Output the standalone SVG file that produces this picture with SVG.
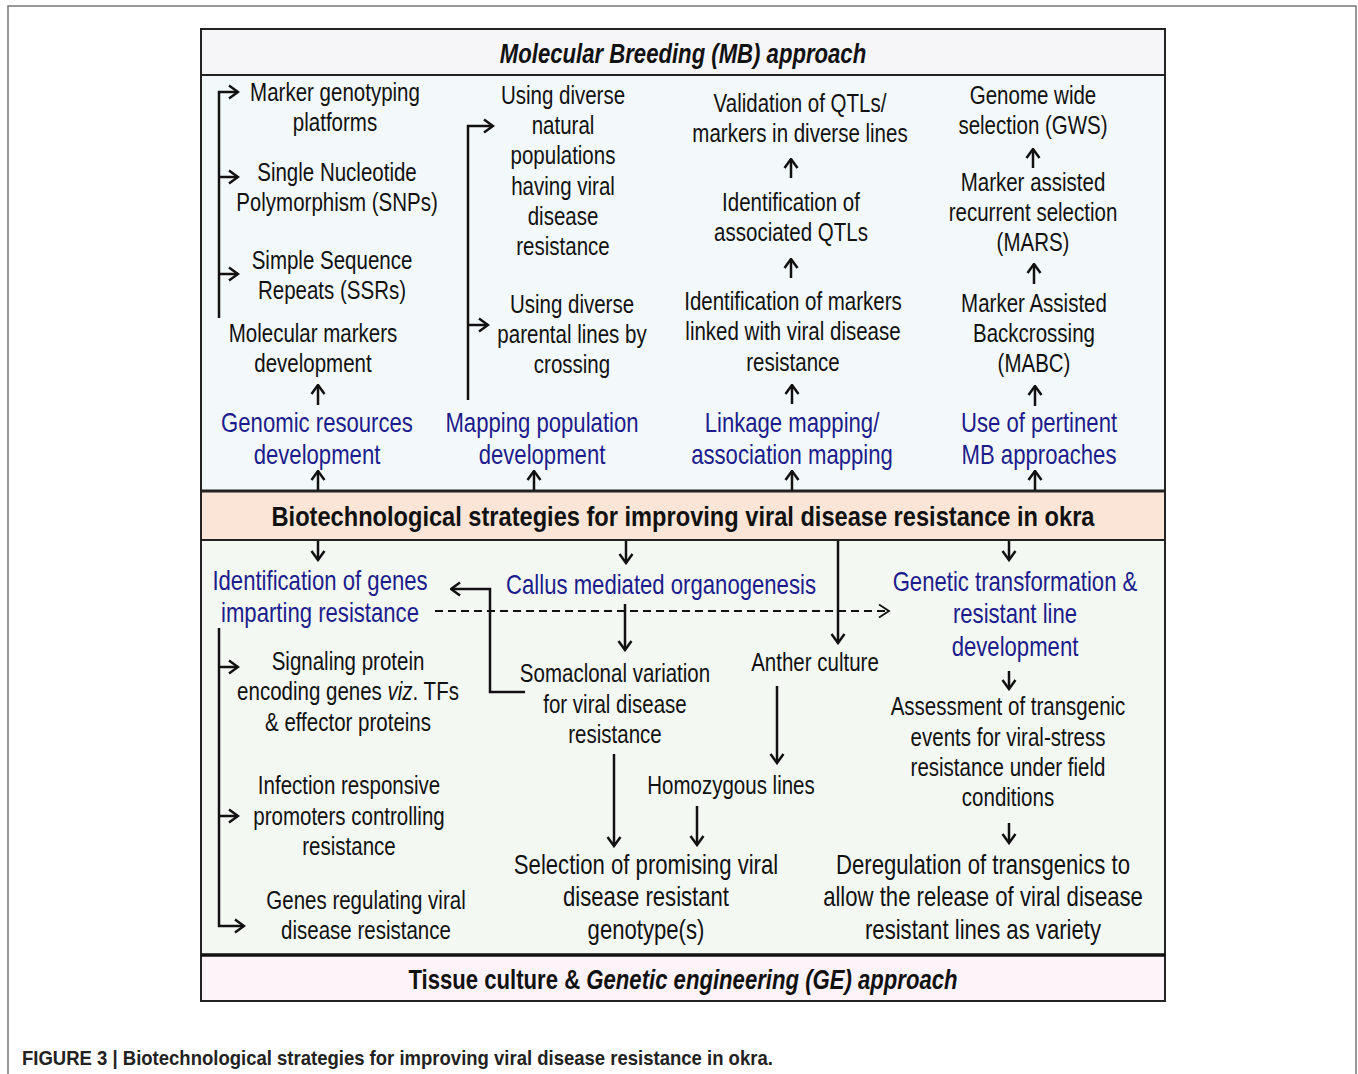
<svg xmlns="http://www.w3.org/2000/svg" width="1358" height="1074" viewBox="0 0 1358 1074">
<defs>
<style>
text{font-family:"Liberation Sans",Arial,sans-serif;text-anchor:middle;}
.t{font-size:25px;fill:#111;}
.tl{font-size:27px;fill:#111;}
.b{font-size:27px;fill:#1c1c8c;}
.h{font-size:27px;font-weight:bold;fill:#111;}
.hi{font-size:27px;font-weight:bold;font-style:italic;fill:#111;}
.cap{font-size:19.5px;font-weight:bold;fill:#222;text-anchor:start;}
.c{fill:none;stroke:#111;stroke-width:2.5;}
.d{fill:none;stroke:#111;stroke-width:1.8;stroke-dasharray:8 5;}
.a{marker-end:url(#ah);}
</style>
<marker id="ah" viewBox="0 0 12 16" refX="10.5" refY="8" markerWidth="12" markerHeight="16" markerUnits="userSpaceOnUse" orient="auto">
<path d="M1.5,1.5 L10.5,8 L1.5,14.5" fill="none" stroke="#111" stroke-width="2.5"/>
</marker>
</defs>
<rect x="0" y="0" width="1358" height="1074" fill="#ffffff"/>
<path d="M8,1074 V6 H1356 V1074" fill="none" stroke="#777" stroke-width="1.5"/>

<g id="frame">
<rect x="201" y="29" width="964" height="46" fill="#f6f6f9"/>
<rect x="201" y="75" width="964" height="416" fill="#f3f9fa"/>
<rect x="201" y="491" width="964" height="49" fill="#fbe5d6"/>
<rect x="201" y="540" width="964" height="415" fill="#f4f8f3"/>
<rect x="201" y="955" width="964" height="46" fill="#fdf3f8"/>
<rect x="201" y="29" width="964" height="972" fill="none" stroke="#222" stroke-width="2"/>
<line x1="201" y1="75" x2="1165" y2="75" stroke="#222" stroke-width="2"/>
<line x1="201" y1="491" x2="1165" y2="491" stroke="#222" stroke-width="3"/>
<line x1="201" y1="540" x2="1165" y2="540" stroke="#222" stroke-width="2"/>
<line x1="201" y1="955" x2="1165" y2="955" stroke="#111" stroke-width="3.5"/>
</g>

<g id="mb-title" transform="translate(683 0) scale(0.82 1)"><text class="hi" x="0" y="63">Molecular Breeding (MB) approach</text></g>
<g id="center-title" transform="translate(683 0) scale(0.875 1)"><text class="h" x="0" y="526">Biotechnological strategies for improving viral disease resistance in okra</text></g>
<g id="ge-title" transform="translate(683 0) scale(0.82 1)"><text class="h" x="0" y="989">Tissue culture &amp; <tspan font-style="italic">Genetic engineering (GE) approach</tspan></text></g>

<g id="n-marker-platforms" transform="translate(335 0) scale(0.82 1)"><text class="t" x="0" y="101">Marker genotyping</text><text class="t" x="0" y="131">platforms</text></g>
<g id="n-snp" transform="translate(337 0) scale(0.82 1)"><text class="t" x="0" y="181">Single Nucleotide</text><text class="t" x="0" y="211">Polymorphism (SNPs)</text></g>
<g id="n-ssr" transform="translate(332 0) scale(0.82 1)"><text class="t" x="0" y="269">Simple Sequence</text><text class="t" x="0" y="299">Repeats (SSRs)</text></g>
<g id="n-molmarkers" transform="translate(313 0) scale(0.82 1)"><text class="t" x="0" y="342">Molecular markers</text><text class="t" x="0" y="372">development</text></g>
<g id="n-genomic" transform="translate(317 0) scale(0.82 1)"><text class="b" x="0" y="432">Genomic resources</text><text class="b" x="0" y="464">development</text></g>

<g id="n-natural" transform="translate(563 0) scale(0.82 1)"><text class="t" x="0" y="104">Using diverse</text><text class="t" x="0" y="134">natural</text><text class="t" x="0" y="164">populations</text><text class="t" x="0" y="195">having viral</text><text class="t" x="0" y="225">disease</text><text class="t" x="0" y="255">resistance</text></g>
<g id="n-parental" transform="translate(572 0) scale(0.82 1)"><text class="t" x="0" y="313">Using diverse</text><text class="t" x="0" y="343">parental lines by</text><text class="t" x="0" y="373">crossing</text></g>
<g id="n-mapping" transform="translate(542 0) scale(0.82 1)"><text class="b" x="0" y="432">Mapping population</text><text class="b" x="0" y="464">development</text></g>

<g id="n-validation" transform="translate(800 0) scale(0.82 1)"><text class="t" x="0" y="112">Validation of QTLs/</text><text class="t" x="0" y="142">markers in diverse lines</text></g>
<g id="n-assocqtl" transform="translate(791 0) scale(0.82 1)"><text class="t" x="0" y="211">Identification of</text><text class="t" x="0" y="241">associated QTLs</text></g>
<g id="n-idmarkers" transform="translate(793 0) scale(0.82 1)"><text class="t" x="0" y="310">Identification of markers</text><text class="t" x="0" y="340">linked with viral disease</text><text class="t" x="0" y="371">resistance</text></g>
<g id="n-linkage" transform="translate(792 0) scale(0.82 1)"><text class="b" x="0" y="432">Linkage mapping/</text><text class="b" x="0" y="464">association mapping</text></g>

<g id="n-gws" transform="translate(1033 0) scale(0.82 1)"><text class="t" x="0" y="104">Genome wide</text><text class="t" x="0" y="134">selection (GWS)</text></g>
<g id="n-mars" transform="translate(1033 0) scale(0.82 1)"><text class="t" x="0" y="191">Marker assisted</text><text class="t" x="0" y="221">recurrent selection</text><text class="t" x="0" y="251">(MARS)</text></g>
<g id="n-mabc" transform="translate(1034 0) scale(0.82 1)"><text class="t" x="0" y="312">Marker Assisted</text><text class="t" x="0" y="342">Backcrossing</text><text class="t" x="0" y="372">(MABC)</text></g>
<g id="n-pertinent" transform="translate(1039 0) scale(0.82 1)"><text class="b" x="0" y="432">Use of pertinent</text><text class="b" x="0" y="464">MB approaches</text></g>

<g id="n-idgenes" transform="translate(320 0) scale(0.82 1)"><text class="b" x="0" y="590">Identification of genes</text><text class="b" x="0" y="622">imparting resistance</text></g>
<g id="n-callus" transform="translate(661 0) scale(0.82 1)"><text class="b" x="0" y="594">Callus mediated organogenesis</text></g>
<g id="n-gt" transform="translate(1015 0) scale(0.82 1)"><text class="b" x="0" y="591">Genetic transformation &amp;</text><text class="b" x="0" y="623">resistant line</text><text class="b" x="0" y="656">development</text></g>

<g id="n-signaling" transform="translate(348 0) scale(0.82 1)"><text class="t" x="0" y="670">Signaling protein</text><text class="t" x="0" y="700">encoding genes <tspan font-style="italic">viz</tspan>. TFs</text><text class="t" x="0" y="731">&amp; effector proteins</text></g>
<g id="n-infection" transform="translate(349 0) scale(0.82 1)"><text class="t" x="0" y="794">Infection responsive</text><text class="t" x="0" y="825">promoters controlling</text><text class="t" x="0" y="855">resistance</text></g>
<g id="n-genesreg" transform="translate(366 0) scale(0.82 1)"><text class="t" x="0" y="909">Genes regulating viral</text><text class="t" x="0" y="939">disease resistance</text></g>

<g id="n-somaclonal" transform="translate(615 0) scale(0.82 1)"><text class="t" x="0" y="682">Somaclonal variation</text><text class="t" x="0" y="713">for viral disease</text><text class="t" x="0" y="743">resistance</text></g>
<g id="n-anther" transform="translate(815 0) scale(0.82 1)"><text class="t" x="0" y="671">Anther culture</text></g>
<g id="n-homozygous" transform="translate(731 0) scale(0.82 1)"><text class="t" x="0" y="794">Homozygous lines</text></g>
<g id="n-selection" transform="translate(646 0) scale(0.82 1)"><text class="tl" x="0" y="874">Selection of promising viral</text><text class="tl" x="0" y="906">disease resistant</text><text class="tl" x="0" y="939">genotype(s)</text></g>

<g id="n-assessment" transform="translate(1008 0) scale(0.82 1)"><text class="t" x="0" y="715">Assessment of transgenic</text><text class="t" x="0" y="746">events for viral-stress</text><text class="t" x="0" y="776">resistance under field</text><text class="t" x="0" y="806">conditions</text></g>
<g id="n-dereg" transform="translate(983 0) scale(0.82 1)"><text class="tl" x="0" y="874">Deregulation of transgenics to</text><text class="tl" x="0" y="906">allow the release of viral disease</text><text class="tl" x="0" y="939">resistant lines as variety</text></g>

<g id="connectors">
<path class="c a" d="M219,318 V92 H238"/>
<path class="c a" d="M219,177 H238"/>
<path class="c a" d="M219,274 H238"/>
<path class="c a" d="M468,400 V126 H493"/>
<path class="c a" d="M468,325 H488"/>
<path class="c a" d="M318,405 V385"/>
<path class="c a" d="M318,490 V471"/>
<path class="c a" d="M534,490 V471"/>
<path class="c a" d="M791,178 V159"/>
<path class="c a" d="M791,278 V259"/>
<path class="c a" d="M792,404 V385"/>
<path class="c a" d="M792,490 V471"/>
<path class="c a" d="M1033,168 V149"/>
<path class="c a" d="M1034,284 V264"/>
<path class="c a" d="M1035,406 V386"/>
<path class="c a" d="M1035,490 V471"/>
<path class="c a" d="M318,541 V560"/>
<path class="c a" d="M626,541 V563"/>
<path class="c a" d="M1009,541 V560"/>
<path class="c a" d="M838,541 V643"/>
<path class="c a" d="M625,604 V650"/>
<path class="c a" d="M525,692 H490 V589 H451"/>
<path class="d" d="M435,611 H886"/>
<path d="M879,604.5 L889,611 L879,617.5" fill="none" stroke="#111" stroke-width="1.8"/>
<path class="c a" d="M219,628 V926 H244"/>
<path class="c a" d="M219,667 H238"/>
<path class="c a" d="M219,816 H238"/>
<path class="c a" d="M777,686 V763"/>
<path class="c a" d="M614,754 V846"/>
<path class="c a" d="M697,806 V845"/>
<path class="c a" d="M1009,671 V689"/>
<path class="c a" d="M1009,823 V843"/>
</g>

<g id="caption" transform="translate(22 0) scale(0.95 1)"><text class="cap" x="0" y="1065">FIGURE 3 | Biotechnological strategies for improving viral disease resistance in okra.</text></g>
</svg>
